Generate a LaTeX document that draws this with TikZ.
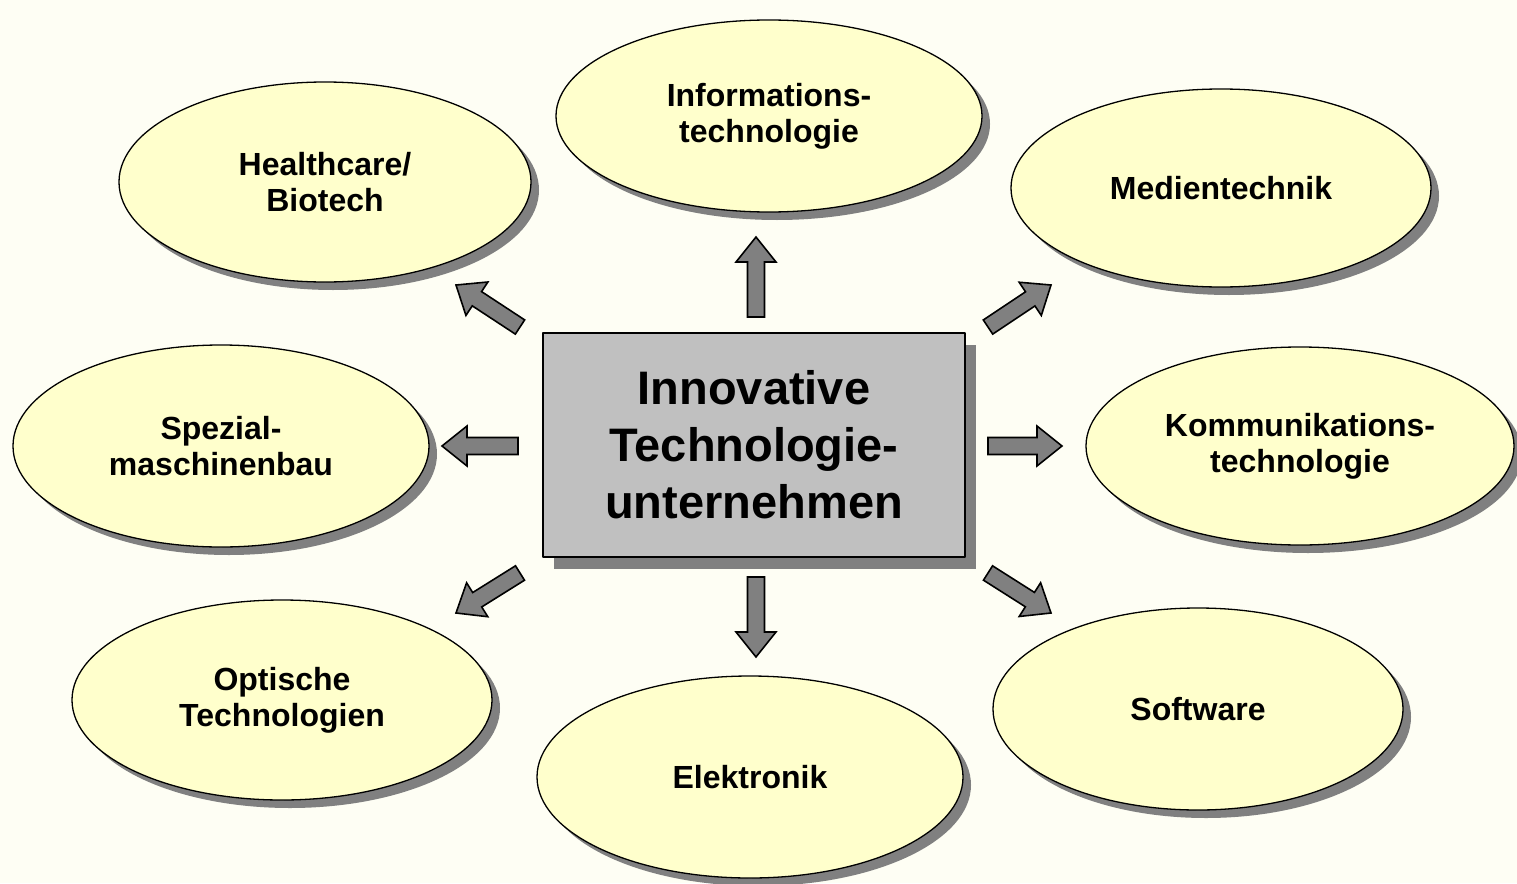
\documentclass[tikz,border=0pt]{standalone}
\usepackage{fontspec}
\setmainfont{Liberation Sans}
\usetikzlibrary{shapes.geometric,shadows,calc}

\definecolor{bgcream}{HTML}{FEFEF4}
\definecolor{topicyellow}{HTML}{FFFFCC}
\definecolor{boxgray}{HTML}{C0C0C0}
\definecolor{shadegray}{HTML}{808080}

\tikzset{
  topic/.style={ellipse, draw=black, line width=1.3pt, fill=topicyellow,
    inner sep=0pt, align=center, font=\fontsize{32}{36}\selectfont\bfseries,
    drop shadow={shadow xshift=8pt, shadow yshift=-8pt, fill=shadegray, opacity=1}},
  hub/.style={rectangle, draw=black, line width=1.3pt, fill=boxgray,
    inner sep=0pt, align=center, font=\fontsize{47}{57}\selectfont\bfseries,
    minimum width=422, minimum height=224,
    drop shadow={shadow xshift=11pt, shadow yshift=-12pt, fill=shadegray, opacity=1}},
  fatarrow/.style={draw=black, line width=1.6pt, fill=shadegray, line join=miter}
}

% block arrow from #1 (tail) to #2 (tip)
\newcommand{\fatarrow}[2]{%
  \coordinate (ah) at ($(#2)!25pt!(#1)$);
  \draw[fatarrow] ($(#1)!8.5pt!90:(#2)$) -- ($(ah)!8.5pt!-90:(#1)$)
    -- ($(ah)!20pt!-90:(#1)$) -- (#2) -- ($(ah)!20pt!90:(#1)$)
    -- ($(ah)!8.5pt!90:(#1)$) -- ($(#1)!8.5pt!-90:(#2)$) -- cycle;}

\begin{document}
\begin{tikzpicture}[line join=round,x=1pt,y=-1pt]

\fill[bgcream] (0,0) rectangle (1517,883);
\useasboundingbox (0,0) rectangle (1517,883);

% fields around the centre
\node[topic, minimum width=412, minimum height=200] (health) at (325,182) {Healthcare/\\Biotech};
\node[topic, minimum width=426, minimum height=192] (info) at (769,116) {Informations-\\technologie};
\node[topic, minimum width=420, minimum height=198] (medien) at (1221,188) {Medientechnik};
\node[topic, minimum width=416, minimum height=202] (spezial) at (221,446) {Spezial-\\maschinenbau};
\node[topic, minimum width=428, minimum height=198] (komm) at (1300,446) {Kommunikations-\\technologie};
\node[topic, minimum width=420, minimum height=200] (optik) at (282,700) {Optische\\Technologien};
\node[topic, minimum width=426, minimum height=202] (elektro) at (750,777) {Elektronik};
\node[topic, minimum width=410, minimum height=202] (soft) at (1198,709) {Software};

\node[hub] (itu) at (754,445) {Innovative\\Technologie-\\unternehmen};

% arrow ends
\coordinate (tHealth) at (520,327);  \coordinate (pHealth) at (456,285);
\coordinate (tInfo) at (756,317);    \coordinate (pInfo) at (756,237);
\coordinate (tMedien) at (988,327);  \coordinate (pMedien) at (1051,285);
\coordinate (tSpezial) at (518,446); \coordinate (pSpezial) at (442,446);
\coordinate (tKomm) at (988,446);    \coordinate (pKomm) at (1062,446);
\coordinate (tOptik) at (520,573);   \coordinate (pOptik) at (456,613);
\coordinate (tElektro) at (756,577); \coordinate (pElektro) at (756,657);
\coordinate (tSoft) at (988,573);    \coordinate (pSoft) at (1051,613);

\fatarrow{tHealth}{pHealth}
\fatarrow{tInfo}{pInfo}
\fatarrow{tMedien}{pMedien}
\fatarrow{tSpezial}{pSpezial}
\fatarrow{tKomm}{pKomm}
\fatarrow{tOptik}{pOptik}
\fatarrow{tElektro}{pElektro}
\fatarrow{tSoft}{pSoft}

\end{tikzpicture}
\end{document}
